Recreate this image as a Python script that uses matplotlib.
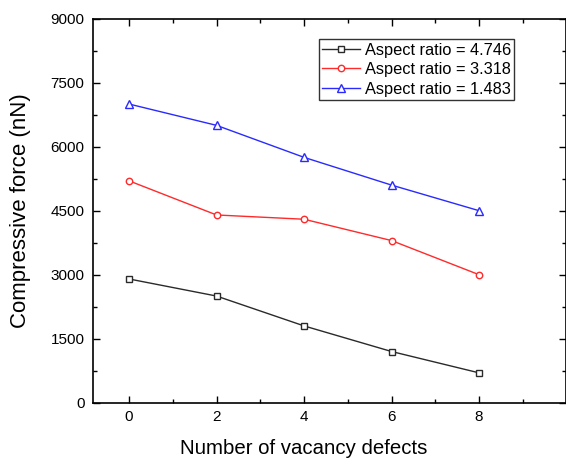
import matplotlib
matplotlib.use("Agg")
import matplotlib.pyplot as plt
from matplotlib.ticker import MultipleLocator

plt.rcParams['font.family'] = ['Liberation Sans', 'DejaVu Sans']

defects = [0, 2, 4, 6, 8]
force_ar_4746 = [2900, 2500, 1800, 1200, 700]
force_ar_3318 = [5200, 4400, 4300, 3800, 3000]
force_ar_1483 = [7000, 6500, 5750, 5100, 4500]
series_labels = ["Aspect ratio = 4.746", "Aspect ratio = 3.318", "Aspect ratio = 1.483"]
y_ticks = [0, 1500, 3000, 4500, 6000, 7500, 9000]

fig = plt.figure(figsize=(5.66, 4.58), dpi=100)
ax = fig.add_axes([0.1638, 0.1207, 0.8357, 0.8385])

ax.plot(defects, force_ar_4746, color='#2a2a2a', lw=1.0, marker='s', ms=4,
        mfc='white', mec='#2a2a2a', mew=1.0, label=series_labels[0])
ax.plot(defects, force_ar_3318, color='#ff2a2a', lw=1.0, marker='o', ms=4.6,
        mfc='white', mec='#ff2a2a', mew=1.0, label=series_labels[1])
ax.plot(defects, force_ar_1483, color='#2a2aff', lw=1.0, marker='^', ms=5.6,
        mfc='white', mec='#2a2aff', mew=1.0, label=series_labels[2])

ax.set_xlim(-0.83, 9.98)
ax.set_ylim(0, 9000)
ax.set_xticks(defects)
ax.set_yticks(y_ticks)
ax.xaxis.set_minor_locator(MultipleLocator(1))
ax.yaxis.set_minor_locator(MultipleLocator(750))
ax.tick_params(which='both', direction='in', top=True, right=True, labelsize=11, width=1.0)
ax.tick_params(which='major', length=5.3)
ax.tick_params(axis='x', which='major', pad=5)
ax.tick_params(axis='y', which='major', pad=6)
ax.tick_params(which='minor', length=3)
for sp in ax.spines.values():
    sp.set_linewidth(1.2)

ax.set_xlabel("Number of vacancy defects", fontsize=14.7)
ax.xaxis.set_label_coords(0.4467, -0.094)
ax.set_ylabel("Compressive force (nN)", fontsize=16)
ax.yaxis.set_label_coords(-0.13, 0.5)

leg = ax.legend(loc='upper right', bbox_to_anchor=(0.891, 0.946), borderaxespad=0,
                fontsize=11.75, frameon=True, fancybox=False, handlelength=2.33,
                handletextpad=0.28, borderpad=0.2, labelspacing=0.27)
leg.get_frame().set_edgecolor('black')
leg.get_frame().set_linewidth(1.0)

fig.savefig("out.png", dpi=100)
